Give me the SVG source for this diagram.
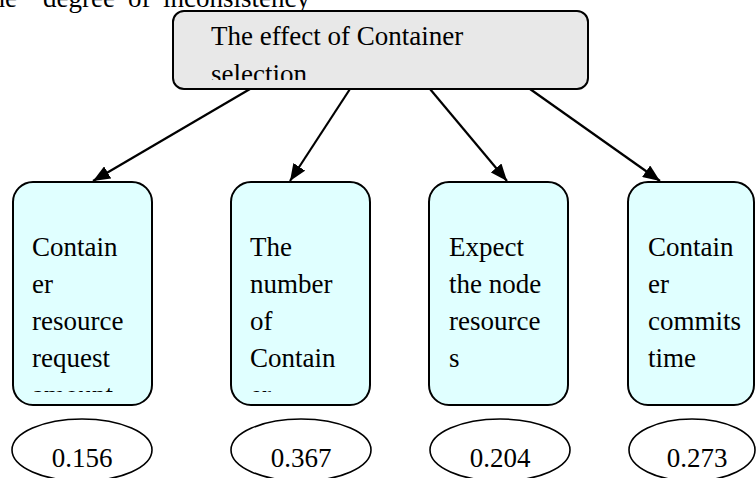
<svg xmlns="http://www.w3.org/2000/svg" width="756" height="478" viewBox="0 0 756 478">
<style>
  text { font-family: 'Liberation Serif', 'Times New Roman', 'DejaVu Serif', serif; font-size: 27px; fill: #000; }
  .top { fill: #e8e8e8; stroke: #000; stroke-width: 2; }
  .box { fill: #e0ffff; stroke: #000; stroke-width: 2; }
  .val { fill: #fff; stroke: #000; stroke-width: 1.6; }
  .edge { stroke: #000; stroke-width: 2.2; fill: none; marker-end: url(#arrow); }
  .num { text-anchor: middle; }
</style>
<defs>
  <marker id="arrow" markerUnits="userSpaceOnUse" markerWidth="18" markerHeight="14" refX="17" refY="7" orient="auto">
    <path d="M0,0 L17,7 L0,14 Z" fill="#000"/>
  </marker>
  <clipPath id="clipTop"><rect x="0" y="0" width="756" height="80"/></clipPath>
  <clipPath id="clipBox"><rect x="0" y="0" width="756" height="392"/></clipPath>
</defs>

<text x="-16" y="7" font-family="Liberation Serif, serif"><tspan x="-16">the</tspan><tspan x="43">degree</tspan><tspan x="128">of</tspan><tspan x="163">inconsistency</tspan></text>

<g id="connectors">
  <line class="edge" x1="250" y1="89" x2="93" y2="181"/>
  <line class="edge" x1="350" y1="89" x2="290" y2="181"/>
  <line class="edge" x1="430" y1="89" x2="507" y2="181"/>
  <line class="edge" x1="530" y1="89" x2="660" y2="181"/>
</g>

<g id="root">
  <rect class="top" x="173" y="11" width="415" height="78" rx="11"/>
  <g clip-path="url(#clipTop)">
    <text x="211" y="45">The effect of Container</text>
    <text x="211" y="83">selection</text>
  </g>
</g>

<g id="n1">
  <rect class="box" x="13" y="182" width="139" height="223" rx="20"/>
  <text x="32" clip-path="url(#clipBox)"><tspan x="32" y="256">Contain</tspan><tspan x="32" y="293">er</tspan><tspan x="32" y="330">resource</tspan><tspan x="32" y="367">request</tspan><tspan x="32" y="404">amount</tspan></text>
</g>
<g id="n2">
  <rect class="box" x="231" y="182" width="139" height="223" rx="20"/>
  <text x="250" clip-path="url(#clipBox)"><tspan x="250" y="256">The</tspan><tspan x="250" y="293">number</tspan><tspan x="250" y="330">of</tspan><tspan x="250" y="367">Contain</tspan><tspan x="250" y="404">er</tspan></text>
</g>
<g id="n3">
  <rect class="box" x="429" y="182" width="139" height="223" rx="20"/>
  <text x="449" clip-path="url(#clipBox)"><tspan x="449" y="256">Expect</tspan><tspan x="449" y="293">the node</tspan><tspan x="449" y="330">resource</tspan><tspan x="449" y="367">s</tspan></text>
</g>
<g id="n4">
  <rect class="box" x="628" y="182" width="126" height="223" rx="20"/>
  <text x="648" clip-path="url(#clipBox)"><tspan x="648" y="256">Contain</tspan><tspan x="648" y="293">er</tspan><tspan x="648" y="330">commits</tspan><tspan x="648" y="367">time</tspan></text>
</g>

<g id="v1">
  <ellipse class="val" cx="82" cy="450" rx="70" ry="31"/>
  <text class="num" x="82" y="467">0.156</text>
</g>
<g id="v2">
  <ellipse class="val" cx="301" cy="450" rx="70" ry="31"/>
  <text class="num" x="301" y="467">0.367</text>
</g>
<g id="v3">
  <ellipse class="val" cx="500" cy="450" rx="70" ry="31"/>
  <text class="num" x="500" y="467">0.204</text>
</g>
<g id="v4">
  <ellipse class="val" cx="692" cy="450" rx="63" ry="31"/>
  <text class="num" x="697" y="467">0.273</text>
</g>
</svg>
